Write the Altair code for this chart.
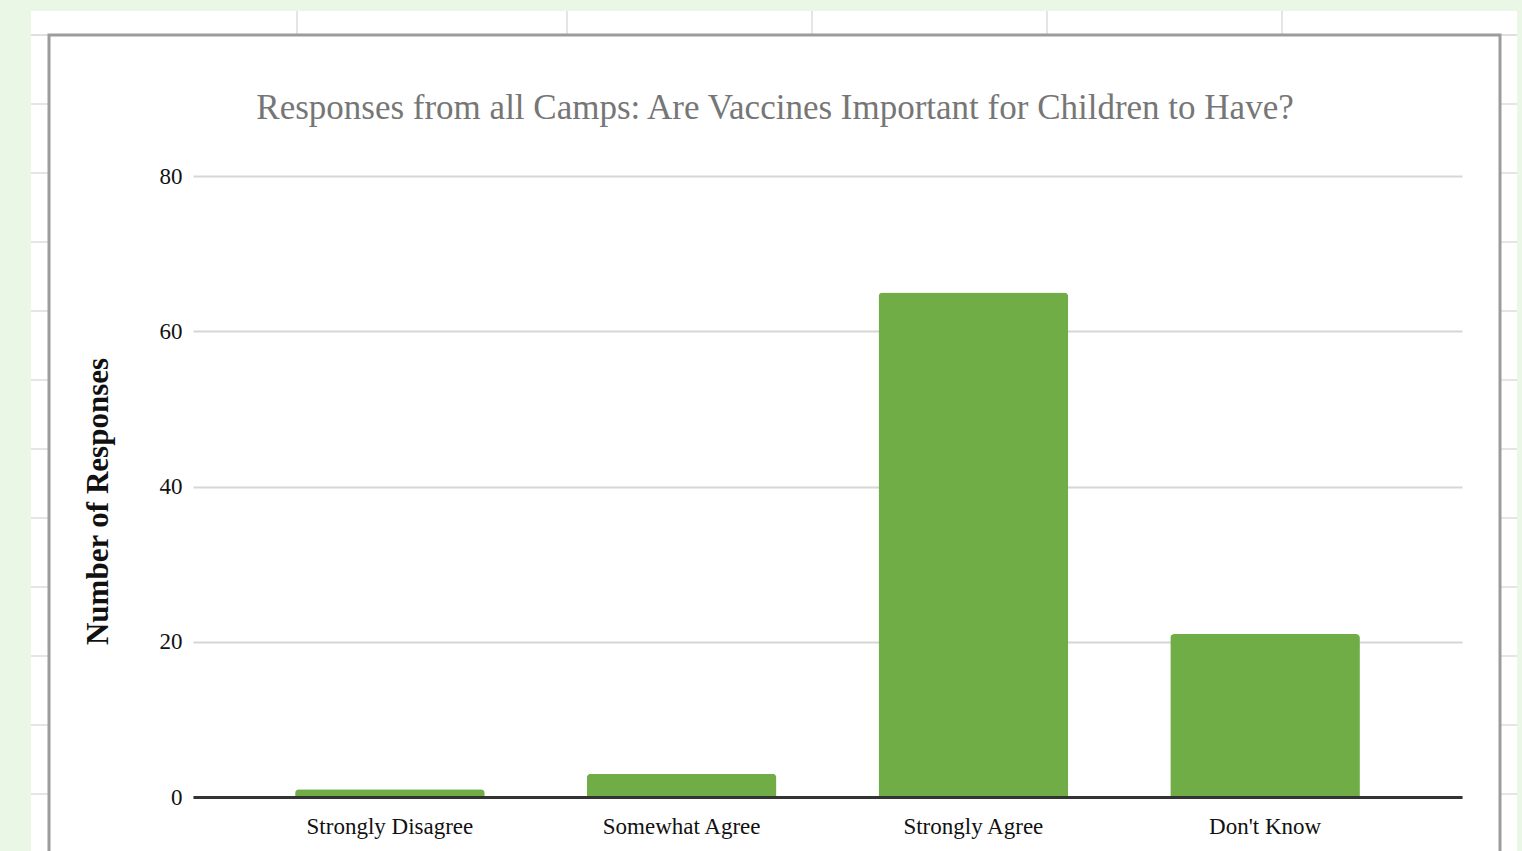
import altair as alt
import pandas as pd

# ---- data ----
categories = ["Strongly Disagree", "Somewhat Agree", "Strongly Agree", "Don't Know"]
responses = [1, 3, 65, 21]
y_ticks = [0, 20, 40, 60, 80]

title_text = "Responses from all Camps: Are Vaccines Important for Children to Have?"
y_title = "Number of Responses"

df = pd.DataFrame({"category": categories, "responses": responses})

# ---- layout (plot area in pixels) ----
L, T = 193, 176          # left / top of the plot area
W, H = 1269, 621         # plot width / height
CW, CH = 1522, 851       # canvas

SERIF = "Liberation Serif"


def rect(x0, y0, x1, y1, **kw):
    """Decorative rectangle in canvas pixel coordinates."""
    return alt.Chart(pd.DataFrame({"k": [0]})).mark_rect(**kw).encode(
        x=alt.value(x0 - L), x2=alt.value(x1 - L),
        y=alt.value(y0 - T), y2=alt.value(y1 - T),
    )


def rule(x0, y0, x1, y1, color="#dcdcdc", width=1.5):
    return alt.Chart(pd.DataFrame({"k": [0]})).mark_rule(
        color=color, strokeWidth=width
    ).encode(
        x=alt.value(x0 - L), x2=alt.value(x1 - L),
        y=alt.value(y0 - T), y2=alt.value(y1 - T),
    )


deco = []
# light green page surround
deco.append(rect(0, 0, 31, CH, color="#eaf6e6"))
deco.append(rect(0, 0, CW, 11, color="#eaf6e6"))
deco.append(rect(1517, 0, CW, CH, color="#eaf6e6"))
# spreadsheet cell lines around the chart box
sheet_rows = [35, 104, 173, 242, 311, 380, 449, 518, 587, 656, 725, 794]
for yy in sheet_rows:
    deco.append(rule(31, yy, 49, yy))
    deco.append(rule(1500, yy, 1517, yy))
deco.append(rule(31, 35, 1517, 35))
for xx in [297, 567, 812, 1047, 1282]:
    deco.append(rule(xx, 11, xx, 35))
# chart box border
deco.append(rect(49, 35, 1500, CH + 20, fill="white", fillOpacity=0,
                 stroke="#9c9c9c", strokeWidth=3))

# chart title (as a text mark so that it sits inside the chart box)
title = alt.Chart(pd.DataFrame({"k": [0]})).mark_text(
    font=SERIF, fontSize=35, color="#767676", align="center",
    baseline="alphabetic",
).encode(
    x=alt.value(775 - L), y=alt.value(119 - T), text=alt.value(title_text)
)

bars = alt.Chart(df).mark_bar(
    color="#70ad47", cornerRadiusTopLeft=4, cornerRadiusTopRight=4
).encode(
    x=alt.X(
        "category:N", sort=categories,
        scale=alt.Scale(paddingInner=0.35, paddingOuter=0.35),
        axis=alt.Axis(
            title=None, labelAngle=0, ticks=False, grid=False,
            domain=True, domainColor="#333333", domainWidth=3,
            labelPadding=18, labelFontSize=23, labelFont=SERIF,
            labelColor="#111111", zindex=1,
        ),
    ),
    y=alt.Y(
        "responses:Q",
        scale=alt.Scale(domain=[0, 80]),
        axis=alt.Axis(
            values=y_ticks, title=y_title, domain=False, ticks=False,
            grid=True, gridColor="#d6d6d6", gridWidth=2,
            labelPadding=11, labelFontSize=23, labelFont=SERIF,
            labelColor="#111111",
            titleFont=SERIF, titleFontSize=31, titleFontWeight="bold",
            titleColor="#111111", titleX=-95, titleY=325,
            titleAlign="center", titleBaseline="middle", titleAngle=270,
        ),
    ),
)

chart = alt.layer(*deco, title, bars).properties(
    width=W, height=H,
    autosize=alt.AutoSizeParams(type="none"),
    padding={"left": L, "top": T, "right": CW - L - W, "bottom": CH - T - H},
).configure(background="white").configure_view(stroke=None)

chart.save("out.html", embed_options={"renderer": "svg", "actions": False})
